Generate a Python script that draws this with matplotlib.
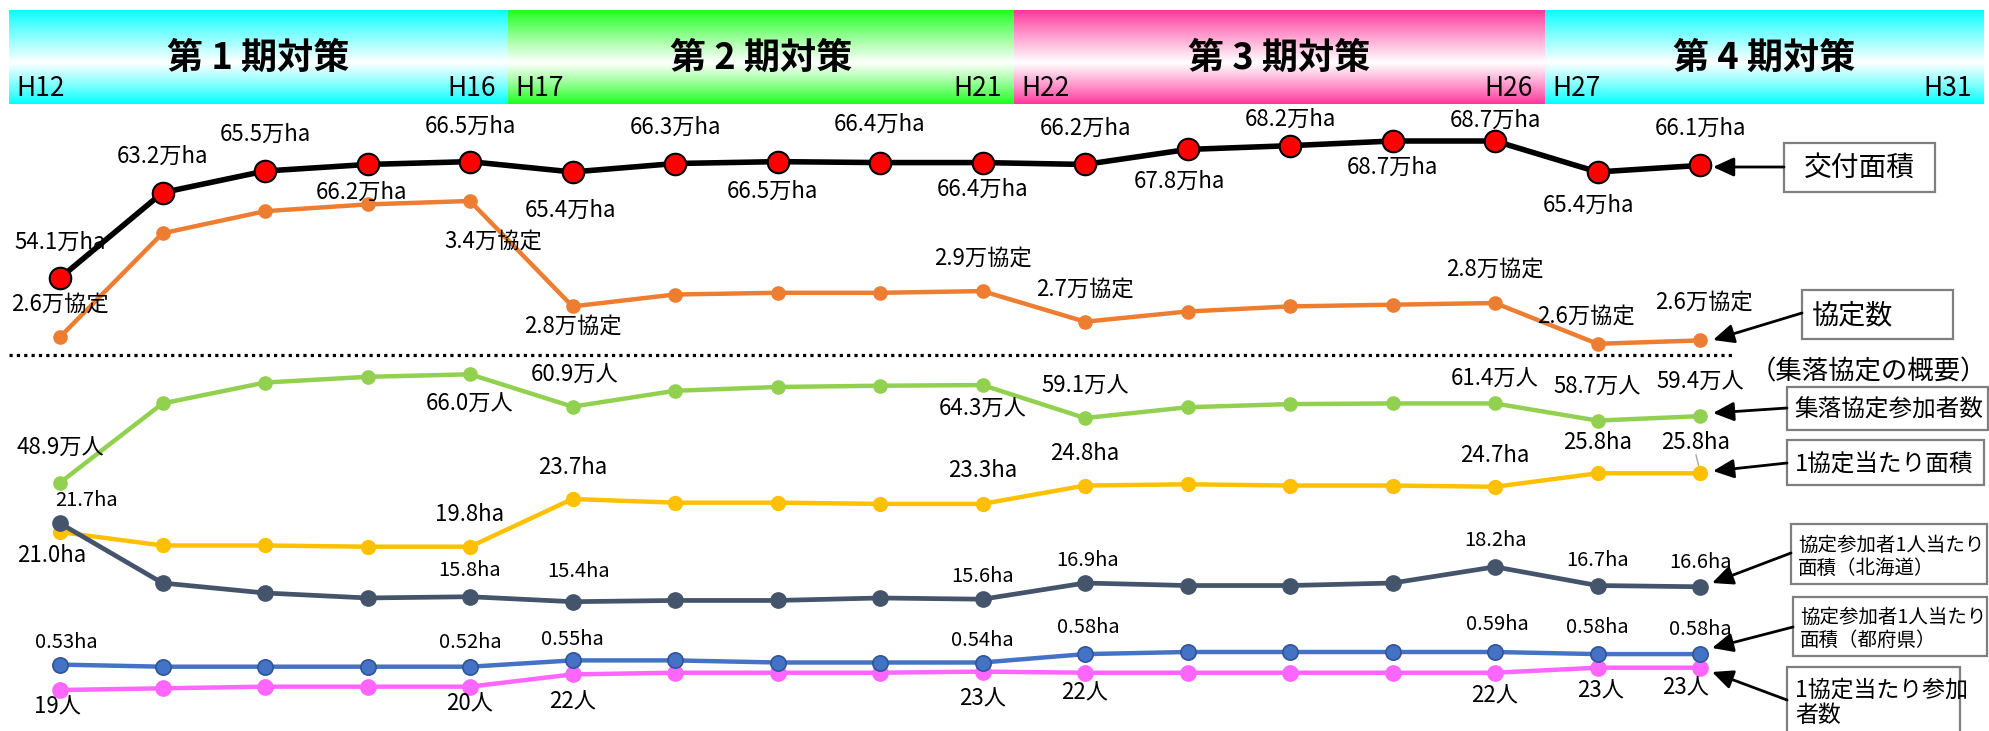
import matplotlib
matplotlib.use('Agg')
import matplotlib.pyplot as plt
from matplotlib.patches import Rectangle
import numpy as np

plt.rcParams['font.family'] = ['Noto Sans CJK JP', 'DejaVu Sans']

W, H = 1989, 731          # canvas in pixels (dpi 100)

# ---- data (Heisei years H12..H28) ----
years = [12, 13, 14, 15, 16, 17, 18, 19, 20, 21, 22, 23, 24, 25, 26, 27, 28]
area = [54.1, 63.2, 65.5, 66.2, 66.5, 65.4, 66.3, 66.5, 66.4, 66.4,
        66.2, 67.8, 68.2, 68.7, 68.7, 65.4, 66.1]                      # 万ha
agreements = [2.60, 3.21, 3.34, 3.38, 3.40, 2.78, 2.85, 2.86, 2.86, 2.87,
              2.69, 2.75, 2.78, 2.79, 2.80, 2.56, 2.58]                # 万協定
participants = [48.9, 61.4, 64.7, 65.6, 66.0, 60.9, 63.4, 64.0, 64.2, 64.3,
                59.1, 60.8, 61.3, 61.4, 61.4, 58.7, 59.4]              # 万人
area_per_agr = [21.0, 19.9, 19.9, 19.8, 19.8, 23.7, 23.4, 23.4, 23.3, 23.3,
                24.8, 24.9, 24.8, 24.8, 24.7, 25.8, 25.8]              # ha
area_pp_hokkaido = [21.7, 16.9, 16.1, 15.7, 15.8, 15.4, 15.5, 15.5, 15.7, 15.6,
                    16.9, 16.7, 16.7, 16.9, 18.2, 16.7, 16.6]          # ha
area_pp_fuken = [0.53, 0.52, 0.52, 0.52, 0.52, 0.55, 0.55, 0.54, 0.54, 0.54,
                 0.58, 0.59, 0.59, 0.59, 0.59, 0.58, 0.58]             # ha
people_per_agr = [19.0, 19.3, 19.6, 19.6, 19.6, 21.8, 22.1, 22.1, 22.1, 22.3,
                  22.1, 22.1, 22.1, 22.1, 22.1, 23.0, 23.0]            # 人

# labelled points
lab_idx = [0, 4, 5, 9, 10, 14, 15, 16]
agr_txt = ['2.6万協定', '3.4万協定', '2.8万協定', '2.9万協定', '2.7万協定', '2.8万協定', '2.6万協定', '2.6万協定']
part_txt = ['48.9万人', '66.0万人', '60.9万人', '64.3万人', '59.1万人', '61.4万人', '58.7万人', '59.4万人']
apa_txt = ['21.0ha', '19.8ha', '23.7ha', '23.3ha', '24.8ha', '24.7ha', '25.8ha', '25.8ha']
hok_txt = ['21.7ha', '15.8ha', '15.4ha', '15.6ha', '16.9ha', '18.2ha', '16.7ha', '16.6ha']
fuk_txt = ['0.53ha', '0.52ha', '0.55ha', '0.54ha', '0.58ha', '0.59ha', '0.58ha', '0.58ha']
ppl_txt = ['19人', '20人', '22人', '23人', '22人', '22人', '23人', '23人']

phases = ['第 1 期対策', '第 2 期対策', '第 3 期対策', '第 4 期対策']
phase_start = ['H12', 'H17', 'H22', 'H27']
phase_end = ['H16', 'H21', 'H26', 'H31']

fig = plt.figure(figsize=(W / 100, H / 100), dpi=100)

# overlay axes in pixel units for the decorations
ax = fig.add_axes([0, 0, 1, 1])
ax.set_xlim(0, W)
ax.set_ylim(H, 0)
ax.axis('off')

# header band with vertical colour -> white -> colour gradient
edges = [9, 508, 1014, 1545, 1984]
band_cols = [(0.0, 1.0, 1.0), (0.1, 1.0, 0.1), (1.0, 0.2, 0.6), (0.0, 1.0, 1.0)]
t = np.linspace(0, 1, 200)
w = np.where(t < 0.56, t / 0.56, (1 - t) / 0.44) ** 0.9
for k in range(4):
    c = np.array(band_cols[k])
    img = c[None, :] * (1 - w[:, None]) + w[:, None]
    ax.imshow(img[:, None, :], extent=(edges[k], edges[k + 1], 104, 10),
              aspect='auto', interpolation='bilinear', zorder=1)
    ax.text((edges[k] + edges[k + 1]) / 2, 58, phases[k], fontsize=26,
            fontweight='bold', ha='center', va='center', zorder=2)
    ax.text(edges[k] + 7, 88, phase_start[k], fontsize=19, ha='left', va='center', zorder=2)
    ax.text(edges[k + 1] - 12, 88, phase_end[k], fontsize=19, ha='right', va='center', zorder=2)

# dotted separator
ax.plot([9, 1732], [355, 355], color='black', lw=2.3, linestyle=(0, (1, 1.3)))
ax.text(1750, 372, '（集落協定の概要）', fontsize=19, ha='left', va='center')

# small leader ticks seen in the original
ax.plot([1696, 1699], [455, 467], color='#A6A6A6', lw=1)

# legend boxes with arrows: box (x0, y0, x1, y1), text, size, text x, line ys, arrow tail, head
boxes = [
    ((1784, 143, 1935, 192), ['交付面積'], 20, 'c', [168], (1784, 167), (1713, 167)),
    ((1802, 290, 1953, 339), ['協定数'], 19.5, 1812, [316], (1802, 313), (1713, 340)),
    ((1787, 387, 1988, 430), ['集落協定参加者数'], 17, 1794, [410], (1787, 408), (1713, 413)),
    ((1787, 440, 1984, 485), ['1協定当たり面積'], 17, 1795, [464], (1787, 463), (1713, 471)),
    ((1791, 524, 1987, 584), ['協定参加者1人当たり', '面積（北海道）'], 14, 1798, [545, 568], (1791, 553), (1712, 583)),
    ((1793, 597, 1987, 656), ['協定参加者1人当たり', '面積（都府県）'], 14, 1800, [617, 640], (1793, 627), (1712, 648)),
    ((1787, 667, 1960, 745), ['1協定当たり参加', '者数'], 16.5, 1795, [690, 715], (1787, 700), (1712, 672)),
]
for (x0, y0, x1, y1), lines, fs, tx, tys, tail, head in boxes:
    ax.add_patch(Rectangle((x0, y0), x1 - x0, y1 - y0, facecolor='white',
                           edgecolor='#7F7F7F', lw=1.6, zorder=3))
    for s, ty in zip(lines, tys):
        if tx == 'c':
            ax.text((x0 + x1) / 2, ty, s, fontsize=fs, ha='center', va='center', zorder=4)
        else:
            ax.text(tx, ty, s, fontsize=fs, ha='left', va='center', zorder=4)
    ax.annotate('', xy=head, xytext=tail,
                arrowprops=dict(arrowstyle='-|>,head_length=0.7,head_width=0.32',
                                color='black', lw=2, mutation_scale=18,
                                shrinkA=0, shrinkB=0), zorder=5)

# one transparent axes per series; y-limits put each line in its own band
x_lo = years[0] - 60 / 102.5
x_hi = years[0] + (W - 60) / 102.5


def series_axes(v1, p1, v2, p2):
    # value v1 sits at pixel row p1, v2 at row p2 (rows counted from top)
    a = fig.add_axes([0, 0, 1, 1])
    a.set_xlim(x_lo, x_hi)
    k = (v2 - v1) / (p1 - p2)
    a.set_ylim(v1 - (H - p1) * k, v1 + p1 * k)
    a.axis('off')
    return a


def put_labels(a, vals, idx, texts, offs, size):
    for i, s, (dx, dy) in zip(idx, texts, offs):
        a.annotate(s, (years[i], vals[i]), xytext=(dx, dy), textcoords='offset pixels',
                   ha='center', va='center', fontsize=size)


# 協定数
a = series_axes(2.6, 337, 3.4, 201)
a.plot(years, agreements, color='#ED7D31', lw=3.2, marker='o', ms=9.5)
put_labels(a, agreements, lab_idx, agr_txt,
           [(0, 33), (23, -40), (0, -20), (0, 33), (0, 33), (0, 34), (-12, 28), (4, 38)], 16)

# 交付面積
a = series_axes(54.1, 278, 68.7, 141)
a.plot(years, area, color='black', lw=4, marker='o', ms=15.5,
       markerfacecolor='#FF0000', markeredgecolor='black', markeredgewidth=1.5)
area_txt = [f'{v:.1f}万ha' for v in area]
area_offs = [(0, 36), (0, 36), (0, 37), (-6, -28), (0, 35), (-2, -38), (0, 36), (-5, -30), (0, 38),
             (0, -27), (0, 36), (-8, -32), (0, 26), (0, -26), (0, 21), (-9, -33), (0, 37)]
put_labels(a, area, range(len(area)), area_txt, area_offs, 16)

# 集落協定参加者数
a = series_axes(48.9, 482.7, 66.0, 374.3)
a.plot(years, participants, color='#92D050', lw=3.2, marker='o', ms=9.5)
put_labels(a, participants, lab_idx, part_txt,
           [(0, 34), (0, -30), (2, 31), (0, -24), (0, 32), (0, 24), (0, 33), (0, 34)], 16)

# 1協定当たり面積
a = series_axes(19.8, 546.7, 25.8, 473.3)
a.plot(years, area_per_agr, color='#FFC000', lw=3.2, marker='o', ms=10)
put_labels(a, area_per_agr, lab_idx, apa_txt,
           [(-8, -23), (0, 32), (0, 31), (0, 33), (0, 32), (0, 31), (0, 31), (-4, 31)], 16)

# 協定参加者1人当たり面積（北海道）
a = series_axes(15.4, 601.7, 21.7, 523.3)
a.plot(years, area_pp_hokkaido, color='#44546A', lw=3.4, marker='o', ms=11)
put_labels(a, area_pp_hokkaido, lab_idx, hok_txt,
           [(27, 23), (0, 26), (6, 30), (0, 23), (3, 23), (0, 26), (0, 25), (0, 24)], 14.5)

# 1協定当たり参加者数
a = series_axes(19, 690, 23, 667.7)
a.plot(years, people_per_agr, color='#FF66FF', lw=3.2, marker='o', ms=11)
put_labels(a, people_per_agr, lab_idx, ppl_txt,
           [(-3, -17), (0, -17), (0, -28), (0, -27), (0, -20), (0, -23), (3, -23), (-14, -20)], 16)

# 協定参加者1人当たり面積（都府県）
a = series_axes(0.52, 666.7, 0.59, 652)
a.plot(years, area_pp_fuken, color='#4472C4', lw=3.2, marker='o', ms=11,
       markeredgecolor='#2F5597', markeredgewidth=1.2)
put_labels(a, area_pp_fuken, lab_idx, fuk_txt,
           [(6, 22), (0, 24), (0, 21), (0, 22), (3, 27), (2, 28), (0, 27), (0, 25)], 14.5)

fig.savefig('out.png', dpi=100)
